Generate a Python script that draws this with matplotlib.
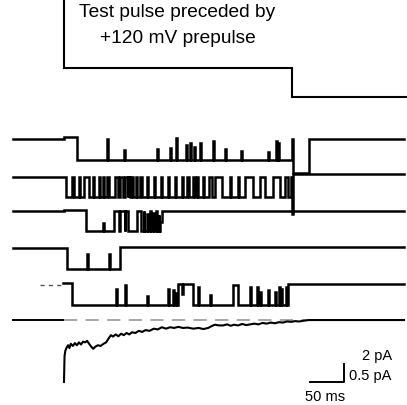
import numpy as np
import matplotlib
matplotlib.use("Agg")
import matplotlib.pyplot as plt

plt.rcParams['font.family'] = ['Liberation Sans', 'DejaVu Sans']

# --- time base (ms), test pulse starts at t = 0 ---
T_START = -75
T_END = 500
PULSE_END = 335

# voltage protocol: segment edges (ms) and display levels (prepulse is off the top)
PROTO_EDGES = [-95, 0, 335, 505]
PROTO_LEVELS = [3.0, -7.7, -10.85]

# closed-level baseline of each sweep on the page (pA units)
OFFSETS = [-15.55, -19.75, -23.6, -27.65, -31.75]

# sweep 1: level changes (ms, pA) + brief closures
SWEEP1_STEPS = [(-75, 0), (0, 0.2), (19, -2.3), (335, 0), (336.5, -3.8), (360, 0)]
SWEEP1_SPIKES = [(63, 0.0), (88, -1.2), (137, -1.1), (156, -1.0), (165, 0.1), (179, -0.7),
                 (185, -0.4), (191, -0.9), (200, -0.5), (219, -0.2), (237, -1.1), (260, -1.3),
                 (300, -1.4), (312, -0.2), (315, -0.5)]

# sweep 2: bursting channel, closed intervals inside the burst (ms)
SWEEP2_BURST = (3, 334)
SWEEP2_CLOSED = [(11.8, 14.7), (22.1, 23.5), (29.4, 36.8), (42.6, 44.1), (51.5, 52.9),
                 (57.4, 58.8), (63.2, 66.2), (75, 79.4), (82.4, 86.8), (89.7, 101.5),
                 (105.9, 107.4), (111.8, 114.7), (122.1, 123.5), (132.4, 133.8), (142.6, 144.1),
                 (152.9, 154.4), (163.2, 164.7), (173.5, 175), (180.9, 183.8), (189.7, 192.6),
                 (195.6, 197.1), (204.4, 205.9), (213.2, 217.6), (222.1, 232.4), (244.1, 245.6),
                 (255.9, 257.4), (266.2, 277.9), (288.2, 295.6), (307.4, 317.6), (325, 329.4)]
SWEEP2_AFTER = 0.3
SWEEP2_SPIKES = [(93.4, -2.2), (97.8, -2.2), (335, -4.1)]

SWEEP3_STEPS = [(-75, 0), (0, 0.15), (33, -2.2), (74, 0), (94, -2.2), (108, 0), (113, -2.2),
                (141, -1.2), (144, 0)]
SWEEP3_SPIKES = [(57, -1.3), (81.6, -2.2), (89, -2.2), (117, 0), (122, -0.3), (126.5, 0),
                 (131, -0.2), (135, 0), (139, -0.4)]

SWEEP4_STEPS = [(-75, 0), (5, -2.4), (82, 0.1)]
SWEEP4_SPIKES = [(34, -0.7), (66, -0.7)]

SWEEP5_PRE = (-35, -2)
SWEEP5_STEPS = [(-2, 0.2), (12, -2.2), (167.6, 0.1), (189.7, -2.2), (248.5, 0.0), (256, -2.2),
                (329.4, 0.05)]
SWEEP5_SPIKES = [(76.5, -0.45), (89.7, 0.0), (122, -1.2), (153, -0.5), (160.3, -0.6),
                 (164.7, -0.9), (173.5, -1.0), (197, -0.3), (214.7, -1.1), (273.5, -0.2),
                 (283.8, -0.3), (288.2, -0.8), (300, -0.6), (310.3, -0.8), (316.2, -0.3),
                 (319.1, -0.5), (326.2, -0.2)]

# ensemble average (pA), drawn at 4x the single-channel gain
ENS_OFFSET = -35.67
ENS_GAIN = 4.0
ENS_T = [0, 0.8, 2, 4, 6, 8, 10, 13, 16, 19, 22, 25, 28, 31, 34, 37, 40, 43, 46, 50, 54, 58,
         62, 66, 69, 72, 76, 80, 84, 88, 92, 96, 100, 105, 110, 115, 120, 126, 132, 138, 144,
         150, 156, 162, 168, 175, 182, 190, 198, 205, 212, 218, 222, 228, 234, 240, 245, 250,
         256, 262, 268, 274, 280, 286, 292, 298, 304, 310, 316, 322, 328, 334, 340, 346, 352,
         356, 360, 500]
ENS_I = [-1.72, -1.0, -0.85, -0.76, -0.70, -0.78, -0.66, -0.72, -0.64, -0.70, -0.62, -0.68,
         -0.60, -0.62, -0.58, -0.66, -0.74, -0.80, -0.74, -0.70, -0.72, -0.66, -0.62, -0.50,
         -0.42, -0.46, -0.40, -0.45, -0.38, -0.42, -0.36, -0.40, -0.34, -0.36, -0.30, -0.33,
         -0.28, -0.30, -0.24, -0.26, -0.20, -0.24, -0.20, -0.22, -0.19, -0.22, -0.21, -0.24,
         -0.22, -0.25, -0.22, -0.16, -0.13, -0.15, -0.15, -0.12, -0.16, -0.13, -0.15, -0.11,
         -0.14, -0.12, -0.10, -0.12, -0.08, -0.10, -0.07, -0.09, -0.06, -0.07, -0.04, -0.05,
         -0.03, -0.04, -0.02, -0.01, 0.0, 0.0]

# scale bar
BAR_MS = 50
BAR_PA = 2
BAR_T = 412
BAR_Y = -42.55


def build(steps, spikes=(), width=1.2, end=T_END):
    ts = [s[0] for s in steps]
    ls = [s[1] for s in steps]
    pts = list(zip(ts, ls))
    for t, lev in spikes:
        idx = np.searchsorted(ts, t + width, side='right') - 1
        pts.append((t, lev))
        pts.append((t + width, ls[idx]))
    pts.sort()
    tt = [p[0] for p in pts] + [end]
    yy = [p[1] for p in pts] + [pts[-1][1]]
    return np.array(tt), np.array(yy)


fig = plt.figure(figsize=(4.07, 4.06), dpi=100)
ax = fig.add_axes([0, 0, 1, 1])
ax.set_xlim(-94.1, 504.4)
ax.set_ylim(-45.11, 0)
ax.axis('off')

# voltage protocol
ax.stairs(PROTO_LEVELS, PROTO_EDGES, baseline=None, color='black', lw=1.5)
ax.text(166.9, -1.86, "Test pulse preceded by", ha='center', va='baseline', fontsize=13.8)
ax.text(166.9, -4.81, "+120 mV prepulse", ha='center', va='baseline', fontsize=13.8)

# sweep 2 steps from the closed intervals
s2 = [(T_START, 0), (SWEEP2_BURST[0], -2.2)]
for a, b in SWEEP2_CLOSED:
    s2 += [(a, 0), (b, -2.2)]
s2 += [(SWEEP2_BURST[1], 0), (336.2, SWEEP2_AFTER)]

sweeps = [(SWEEP1_STEPS, SWEEP1_SPIKES), (s2, SWEEP2_SPIKES), (SWEEP3_STEPS, SWEEP3_SPIKES),
          (SWEEP4_STEPS, SWEEP4_SPIKES), (SWEEP5_STEPS, SWEEP5_SPIKES)]
for (steps, spikes), off in zip(sweeps, OFFSETS):
    t, y = build(steps, spikes)
    ax.step(t, y + off, where='post', color='black', lw=1.8, solid_joinstyle='miter')

# faint start of sweep 5
ax.plot(SWEEP5_PRE, [OFFSETS[4]] * 2, color='#555555', lw=1.0, dashes=(3, 3))

# ensemble average
ax.plot([T_START, 0], [ENS_OFFSET] * 2, color='black', lw=1.4)
ax.plot([0, 360], [ENS_OFFSET] * 2, color='#a8a8a8', lw=1.4, dashes=(6.8, 4.3))
ax.plot(ENS_T, np.array(ENS_I) * ENS_GAIN + ENS_OFFSET, color='black', lw=1.5)

# scale bar
ax.plot([BAR_T - BAR_MS, BAR_T, BAR_T], [BAR_Y, BAR_Y, BAR_Y + BAR_PA], color='black', lw=1.4)
ax.text(482, -40.0, "2 pA", ha='right', va='baseline', fontsize=10.5)
ax.text(482, -42.2, "0.5 pA", ha='right', va='baseline', fontsize=10.5)
ax.text(354, -44.6, "50 ms", ha='left', va='baseline', fontsize=10.5)

fig.savefig("out.png", dpi=100, facecolor='white')
